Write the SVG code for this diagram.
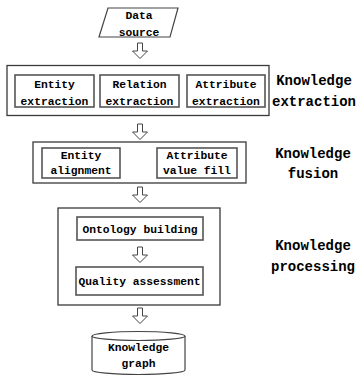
<svg xmlns="http://www.w3.org/2000/svg" width="359" height="376" viewBox="0 0 359 376">
<defs>
<style>
.outer{fill:none;stroke:#3a3a3a;stroke-width:1.3}
.inner{fill:#fff;stroke:#555;stroke-width:1.6}
.t{font-family:"Liberation Mono",monospace;font-weight:bold;font-size:11.3px;fill:#000;text-anchor:middle}
.lbl{font-family:"Liberation Mono",monospace;font-weight:bold;font-size:14px;fill:#000;text-anchor:middle}
.arr{fill:#fff;stroke:#444;stroke-width:1}
</style>
<path id="arrow" d="M-2.5,0 V8 H-7.5 L0,15.5 L7.5,8 H2.5 V0 Z"/>
</defs>
<rect width="359" height="376" fill="#fff"/>

<g id="data-source">
<polygon points="108,8 178,8 170,37 99,37" fill="#fff" stroke="#444" stroke-width="1.2"/>
<text class="t" x="139" y="19">Data</text>
<text class="t" x="139" y="36">source</text>
</g>

<g id="knowledge-extraction">
<rect class="outer" x="7" y="65.5" width="262" height="50"/>
<text class="lbl" x="314" y="85">Knowledge</text>
<text class="lbl" x="314" y="106">extraction</text>
</g>
<g id="entity-extraction">
<rect class="inner" x="15" y="75" width="79" height="32"/>
<text class="t" x="54.5" y="88">Entity</text>
<text class="t" x="54.5" y="105">extraction</text>
</g>
<g id="relation-extraction">
<rect class="inner" x="100" y="75" width="79" height="32"/>
<text class="t" x="139.5" y="88">Relation</text>
<text class="t" x="139.5" y="105">extraction</text>
</g>
<g id="attribute-extraction">
<rect class="inner" x="187" y="75" width="78" height="32"/>
<text class="t" x="226" y="88">Attribute</text>
<text class="t" x="226" y="105">extraction</text>
</g>

<g id="knowledge-fusion">
<rect class="outer" x="33" y="142" width="213" height="41"/>
<text class="lbl" x="313" y="158">Knowledge</text>
<text class="lbl" x="313" y="178">fusion</text>
</g>
<g id="entity-alignment">
<rect class="inner" x="42" y="148" width="78" height="30"/>
<text class="t" x="81" y="159">Entity</text>
<text class="t" x="81" y="174">alignment</text>
</g>
<g id="attribute-value-fill">
<rect class="inner" x="157" y="148" width="80" height="30"/>
<text class="t" x="197" y="159">Attribute</text>
<text class="t" x="197" y="174">value fill</text>
</g>

<g id="knowledge-processing">
<rect class="outer" x="58" y="208" width="162" height="97"/>
<text class="lbl" x="313" y="250">Knowledge</text>
<text class="lbl" x="313" y="271">processing</text>
</g>
<g id="ontology-building">
<rect class="inner" x="77" y="217" width="126" height="23"/>
<text class="t" x="140" y="233">Ontology building</text>
</g>
<g id="quality-assessment">
<rect class="inner" x="76" y="267" width="127" height="28"/>
<text class="t" x="139.5" y="285">Quality assessment</text>
</g>

<g id="knowledge-graph">
<path d="M92,336 A46.5,4.5 0 0 1 185,336 V370 A46.5,4.5 0 0 1 92,370 Z" fill="#fff" stroke="#444" stroke-width="1.2"/>
<path d="M92,336 A46.5,4.5 0 0 0 185,336" fill="none" stroke="#444" stroke-width="1.2"/>
<text class="t" x="138.5" y="351">Knowledge</text>
<text class="t" x="138.5" y="367">graph</text>
</g>

<g id="connectors">
<use href="#arrow" class="arr" x="140" y="43"/>
<use href="#arrow" class="arr" x="140" y="124"/>
<use href="#arrow" class="arr" x="140" y="187"/>
<use href="#arrow" class="arr" x="140" y="247"/>
<use href="#arrow" class="arr" x="140" y="308"/>
</g>
</svg>
